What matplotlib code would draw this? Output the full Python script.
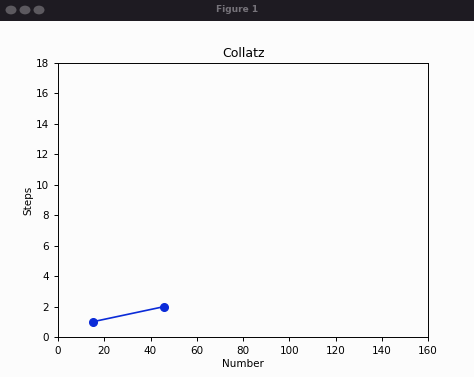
import matplotlib
matplotlib.use("Agg")
import matplotlib.pyplot as plt
from matplotlib.patches import Rectangle, Circle

# donnees Collatz
numbers = [15, 46]
steps = [1, 2]

fig = plt.figure(figsize=(4.74, 3.77), dpi=100)
fig.patch.set_facecolor('#fcfcfc')

# barre de fenetre
H = 377.0
W = 474.0
fig.patches.append(Rectangle((0, 1 - 21/H), 1, 21/H, transform=fig.transFigure,
                             facecolor='#1e1b22', edgecolor='none', zorder=0))
for cx in [11, 25, 39]:
    fig.patches.append(Circle((cx/W, 1 - 10/H), 5.5/W, transform=fig.transFigure,
                              facecolor='#5c595f', edgecolor='none'))
fig.text(0.5, 1 - 10/H, "Figure 1", ha='center', va='center', fontsize=6.5,
         color='#76737a', fontweight='bold')

ax = fig.add_axes([58/W, 1 - 337/H, (428-58)/W, (337-63)/H])
ax.set_facecolor('#fcfcfc')
ax.plot(numbers, steps, marker='o', linestyle='-', color='#0b2bd8', linewidth=1.2, markersize=5.5)
ax.set_xlim(0, 160)
ax.set_ylim(0, 18)
ax.set_xticks(range(0, 161, 20))
ax.set_yticks(range(0, 19, 2))
ax.tick_params(labelsize=7.5, length=3, width=0.7)
for s in ax.spines.values():
    s.set_linewidth(0.7)
ax.set_title("Collatz", fontsize=9, pad=4)
ax.set_xlabel("Number", fontsize=7.5, labelpad=2)
ax.set_ylabel("Steps", fontsize=7.5, labelpad=2)

fig.savefig("out.png", dpi=100, facecolor=fig.get_facecolor())
